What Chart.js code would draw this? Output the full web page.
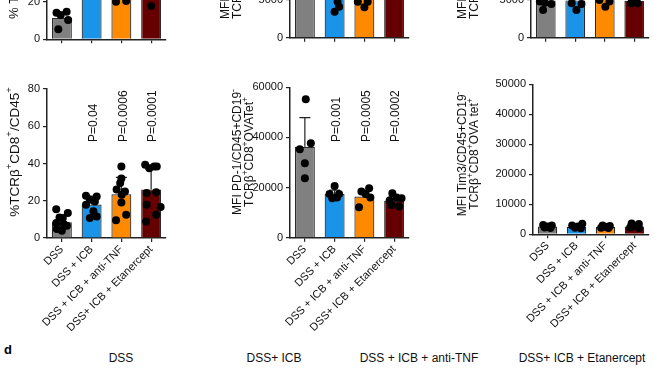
<!DOCTYPE html>
<html>
<head>
<meta charset="utf-8">
<script src="https://cdn.jsdelivr.net/npm/chart.js@4.4.1/dist/chart.umd.min.js"></script>
<style>
  body { margin: 0; background: #fff; width: 653px; height: 375px; overflow: hidden; position: relative;
         font-family: Arial, "Liberation Sans", sans-serif; }
  canvas { position: absolute; }
  .hd { position: absolute; top: 351px; font-size: 12px; color: #111; transform: translateX(-50%); white-space: nowrap; }
</style>
</head>
<body>
<canvas id="topA" width="175" height="182" style="left:0px;top:-130px"></canvas>
<canvas id="topB" width="208" height="180" style="left:210px;top:-130px"></canvas>
<canvas id="topC" width="223" height="180" style="left:430px;top:-130px"></canvas>
<canvas id="midA" width="175" height="270" style="left:0px;top:70px"></canvas>
<canvas id="midB" width="208" height="270" style="left:210px;top:70px"></canvas>
<canvas id="midC" width="223" height="270" style="left:430px;top:70px"></canvas>

<div style="position:absolute;left:4px;top:342px;font-weight:bold;font-size:13px">d</div>
<div class="hd" style="left:121px">DSS</div>
<div class="hd" style="left:274px">DSS+ ICB</div>
<div class="hd" style="left:419px">DSS + ICB + anti-TNF</div>
<div class="hd" style="left:582px">DSS+ ICB + Etanercept</div>

<script>
const groups = ['DSS', 'DSS + ICB', 'DSS + ICB + anti-TNF', 'DSS+ ICB + Etanercept'];
const barColors = ['#808080', '#1a94e8', '#ff8a00', '#660000'];

// top row (only the bottom of these panels is in view)
const topAMean = [11.5, 32, 30, 33];
const topASd = [3, 6, 8, 8];
const topADots = [[14.8, 14.3, 13.1, 10.4, 5.4], [25, 30, 34, 38], [20.2, 20.5, 30, 36, 41], [17.9, 28, 35, 42]];
const topADx = [[0.16, -0.18, -0.04, 0.21, -0.12], [-0.15, 0.15, 0, -0.1], [-0.18, 0.16, 0, -0.1, 0.12], [0, -0.15, 0.15, 0]];
const topATicks = [0, 20, 40, 60, 80];

const topBMean = [9000, 7000, 6500, 8000];
const topBSd = [1500, 1200, 1200, 1400];
const topBDots = [[8000, 9000, 10000, 11000], [3450, 4100, 4780, 8000, 9500], [4770, 4770, 4030, 7500, 9000], [7000, 8000, 9000]];
const topBDx = [[-0.15, 0.1, 0, -0.05], [0, 0.15, 0.1, -0.15, 0.05], [-0.22, 0.11, 0, 0.15, -0.1], [-0.1, 0.15, 0]];
const topBTicks = [0, 5000, 10000, 15000, 20000];

const topCMean = [4950, 4950, 5600, 4900];
const topCSd = [400, 400, 500, 400];
const topCDots = [[3670, 4640, 4470, 4800], [3670, 4560, 4470], [4110, 4800, 5000, 6000], [4560, 4560, 4800]];
const topCDx = [[-0.09, -0.03, 0.19, -0.2], [0.04, -0.12, 0.21], [0.02, 0.16, -0.18, 0], [-0.11, 0.11, 0]];
const topCTicks = [0, 5000, 10000, 15000, 20000];

// middle row, left: %TCRb+CD8+/CD45+
const cd8Mean = [8.5, 18, 23.5, 26];
const cd8Sd = [3.5, 4.5, 9, 11];
const cd8Dots = [
  [15.5, 13.4, 11, 10.7, 8, 7.5, 6.6, 4.8, 3.9],
  [22.7, 22.3, 20.5, 19.6, 17.9, 14.3, 11.6, 10.7],
  [38.4, 32, 29.5, 26, 25, 23.2, 19.1, 12.5, 9.5],
  [39.3, 38.4, 38.4, 37.5, 24.1, 24.5, 17.9, 16.6, 12.5, 8.9]
];
const cd8Dx = [
  [-0.19, 0.2, -0.08, 0.03, -0.19, 0.06, 0.17, -0.17, 0],
  [-0.19, 0.17, -0.06, 0.11, -0.19, 0.06, 0.17, -0.06],
  [0, 0, -0.04, -0.16, 0.12, 0.01, 0, 0.16, -0.18],
  [-0.2, 0.1, 0.19, -0.06, -0.15, 0.17, -0.15, 0.32, 0.17, -0.17]
];
const cd8P = ['', 'P=0.04', 'P=0.0006', 'P=0.0001'];
const cd8Ticks = [0, 20, 40, 60, 80];

// middle row, centre: MFI PD-1
const pd1Mean = [36300, 17400, 16400, 14700];
const pd1Sd = [11600, 1600, 2300, 1800];
const pd1Dots = [
  [55200, 37650, 35250, 29700, 23700],
  [20600, 17400, 17400, 15700, 16000],
  [19700, 18400, 17400, 16000, 12100],
  [17700, 15700, 16000, 13000, 12400, 14800]
];
const pd1Dx = [
  [0.03, 0.2, -0.17, 0, 0],
  [0, -0.17, 0.15, -0.08, 0.08],
  [0.16, -0.1, 0.04, 0.2, -0.18],
  [-0.06, 0.25, 0.08, -0.09, 0.17, -0.15]
];
const pd1P = ['', 'P=0.001', 'P=0.0005', 'P=0.0002'];
const pd1Ticks = [0, 20000, 40000, 60000];

// middle row, right: MFI Tim3
const tim3Mean = [2600, 2500, 2400, 2600];
const tim3Sd = [400, 500, 300, 500];
const tim3Dots = [
  [3100, 2900, 2600, 2300, 2100],
  [3500, 2900, 2600, 2200, 2000],
  [2900, 2800, 2500, 2200, 2100],
  [3600, 3400, 2800, 2300, 2100]
];
const tim3Dx = [
  [-0.15, 0.15, 0, -0.1, 0.1],
  [0.2, -0.15, 0.05, -0.05, 0.15],
  [-0.1, 0.15, 0, -0.15, 0.1],
  [-0.1, 0.15, 0, -0.15, 0.15]
];
const tim3Ticks = [0, 10000, 20000, 30000, 40000, 50000];

Chart.defaults.font.family = 'Arial, "Liberation Sans", sans-serif';
Chart.defaults.color = '#111';

function drawRich(ctx, str, x, y, size) {
  const segs = [];
  for (let i = 0; i < str.length; i++) {
    if (str[i] === '^') { segs.push({ t: str[i + 1], sup: true }); i++; }
    else if (segs.length && !segs[segs.length - 1].sup) segs[segs.length - 1].t += str[i];
    else segs.push({ t: str[i], sup: false });
  }
  let cx = x;
  segs.forEach(s => {
    ctx.font = (s.sup ? size * 0.7 : size) + 'px Arial, "Liberation Sans", sans-serif';
    ctx.fillText(s.t, cx, s.sup ? y - size * 0.38 : y);
    cx += ctx.measureText(s.t).width;
  });
  return cx - x;
}

function richWidth(ctx, str, size) {
  ctx.save();
  ctx.globalAlpha = 0;
  const w = drawRich(ctx, str, 0, 0, size);
  ctx.restore();
  return w;
}

const decor = {
  id: 'decor',
  beforeDatasetsDraw(chart, args, o) {
    const ctx = chart.ctx, ys = chart.scales.y;
    const bars = chart.getDatasetMeta(1).data;
    ctx.save();
    ctx.strokeStyle = '#222';
    ctx.lineWidth = 1.2;
    o.sd.forEach((sd, i) => {
      const x = bars[i].x, y1 = bars[i].y, y2 = ys.getPixelForValue(o.mean[i] + sd);
      ctx.beginPath();
      ctx.moveTo(x, y1); ctx.lineTo(x, y2);
      ctx.moveTo(x - 5.5, y2); ctx.lineTo(x + 5.5, y2);
      ctx.stroke();
    });
    ctx.restore();
  },
  afterDatasetsDraw(chart, args, o) {
    if (!o.pLabels) return;
    const ctx = chart.ctx, ys = chart.scales.y;
    const bars = chart.getDatasetMeta(1).data;
    ctx.save();
    ctx.fillStyle = '#111';
    ctx.font = '12px Arial, "Liberation Sans", sans-serif';
    ctx.textBaseline = 'middle';
    o.pLabels.forEach((t, i) => {
      if (!t) return;
      ctx.save();
      ctx.translate(bars[i].x + 2, ys.getPixelForValue(o.pBase));
      ctx.rotate(-Math.PI / 2);
      ctx.fillText(t, 0, 0);
      ctx.restore();
    });
    ctx.restore();
  },
  afterDraw(chart, args, o) {
    const ctx = chart.ctx;
    const n = o.title.length, gap = 12, size = o.titleSize || 12;
    ctx.save();
    ctx.fillStyle = '#111';
    ctx.textBaseline = 'middle';
    ctx.translate(o.tx, o.ty);
    ctx.rotate(-Math.PI / 2);
    o.title.forEach((line, i) => {
      const w = richWidth(ctx, line, size);
      const x = o.anchor === 'start' ? 0 : -w / 2;
      drawRich(ctx, line, x, (i - (n - 1) / 2) * gap, size);
    });
    ctx.restore();
  }
};

function build(id, o) {
  const cv = document.getElementById(id);
  const left = parseFloat(cv.style.left), top = parseFloat(cv.style.top);
  const dots = [];
  o.dots.forEach((arr, i) => arr.forEach((v, j) => dots.push({ x: i + o.dx[i][j], y: v })));
  new Chart(cv, {
    type: 'bar',
    data: {
      datasets: [
        { type: 'scatter', data: dots, pointRadius: 4, pointBackgroundColor: '#000',
          pointBorderWidth: 0, order: 1 },
        { type: 'bar', data: o.mean.map((v, i) => ({ x: i, y: v })), backgroundColor: barColors,
          borderColor: '#2a2a2a', borderWidth: 1.2, grouped: false,
          barPercentage: 0.67, categoryPercentage: 1, order: 2 }
      ]
    },
    options: {
      responsive: false,
      animation: false,
      devicePixelRatio: 1,
      layout: { padding: { top: o.padTop, right: o.padRight, left: 0, bottom: 0 } },
      plugins: {
        legend: { display: false },
        tooltip: { enabled: false },
        decor: { mean: o.mean, sd: o.sd, pLabels: o.pLabels, pBase: o.pBase, title: o.title,
                 titleSize: o.titleSize, tx: o.titleX - left, ty: o.titleY - top, anchor: o.anchor }
      },
      scales: {
        x: {
          type: 'linear', min: -0.5, max: 3.5, offset: false,
          afterBuildTicks: s => { s.ticks = groups.map((g, i) => ({ value: i })); },
          grid: { offset: false, drawOnChartArea: false, tickLength: 4, color: '#222', lineWidth: 1.2 },
          border: { color: '#222', width: 1.5 },
          ticks: { display: o.showLabels, minRotation: 45, maxRotation: 45, autoSkip: false, padding: 1,
                   font: { size: 11 }, color: '#111', callback: v => groups[v] },
          afterFit: s => { s.height = o.xH; }
        },
        y: {
          type: 'linear', min: 0, max: o.ticks[o.ticks.length - 1],
          afterBuildTicks: s => { s.ticks = o.ticks.map(v => ({ value: v })); },
          ticks: { font: { size: 11 }, color: '#111', padding: 3, callback: v => String(v) },
          grid: { drawOnChartArea: false, tickLength: 4, color: '#222', lineWidth: 1.2 },
          border: { color: '#222', width: 1.5 },
          afterFit: s => { s.width = o.yW; }
        }
      }
    },
    plugins: [decor]
  });
}

build('topA', { mean: topAMean, sd: topASd, dots: topADots, dx: topADx, ticks: topATicks,
  yW: 47, padTop: 20.3, padRight: 9, xH: 12.7, showLabels: false,
  title: ['% TCRβ^+CD4^+/CD45^+'], titleSize: 13, titleX: 14, titleY: 19, anchor: 'start' });
build('topB', { mean: topBMean, sd: topBSd, dots: topBDots, dx: topBDx, ticks: topBTicks,
  yW: 80, padTop: 16.9, padRight: 9, xH: 12.3, showLabels: false,
  title: ['MFI PD-1/CD45+CD19^-', 'TCRβ^+CD4^+'], titleX: 232, titleY: 19, anchor: 'start' });
build('topC', { mean: topCMean, sd: topCSd, dots: topCDots, dx: topCDx, ticks: topCTicks,
  yW: 101, padTop: 16.9, padRight: 3, xH: 12.3, showLabels: false,
  title: ['MFI Tim3/CD45+CD19^-', 'TCRβ^+CD4^+'], titleX: 469, titleY: 19, anchor: 'start' });
build('midA', { mean: cd8Mean, sd: cd8Sd, dots: cd8Dots, dx: cd8Dx, ticks: cd8Ticks,
  pLabels: cd8P, pBase: 51.5,
  yW: 47, padTop: 19, padRight: 9, xH: 102, showLabels: true,
  title: ['%TCRβ^+CD8^+/CD45^+'], titleSize: 13.5, titleX: 15, titleY: 152, anchor: 'center' });
build('midB', { mean: pd1Mean, sd: pd1Sd, dots: pd1Dots, dx: pd1Dx, ticks: pd1Ticks,
  pLabels: pd1P, pBase: 38200,
  yW: 80, padTop: 17.3, padRight: 9, xH: 102.3, showLabels: true,
  title: ['MFI PD-1/CD45+CD19^-', 'TCRβ^+CD8^+OVATet^+'], titleX: 244, titleY: 152, anchor: 'center' });
build('midC', { mean: tim3Mean, sd: tim3Sd, dots: tim3Dots, dx: tim3Dx, ticks: tim3Ticks,
  yW: 103, padTop: 14.3, padRight: 1, xH: 105.7, showLabels: true,
  title: ['MFI Tim3/CD45+CD19^-', 'TCRβ^+CD8^+OVA tet^+'], titleX: 469, titleY: 154, anchor: 'center' });
</script>
</body>
</html>
